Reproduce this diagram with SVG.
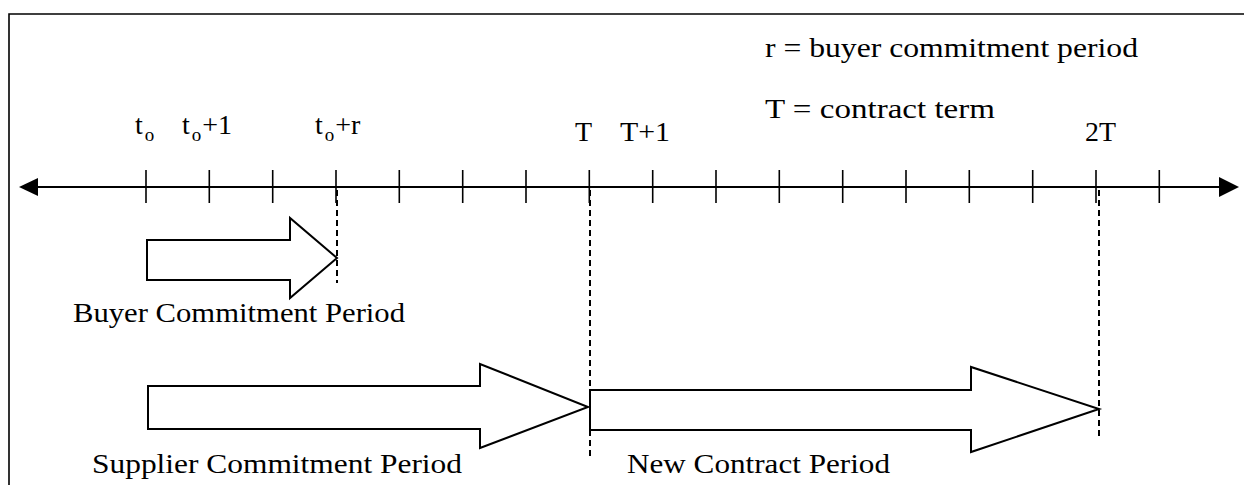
<svg xmlns="http://www.w3.org/2000/svg" width="1244" height="485" viewBox="0 0 1244 485">
<style>
  .txt { font-family: "Liberation Serif", "Times New Roman", serif; fill: #000; }
  .lbl { font-size: 28px; }
  .tl { font-size: 28px; }
  .sub { font-size: 19px; }
  .tick { stroke: #000; stroke-width: 1.6; }
  .shape { fill: #fff; stroke: #000; stroke-width: 2; stroke-linejoin: miter; }
  .dash { stroke: #000; stroke-width: 2; stroke-dasharray: 6 4; fill: none; }
</style>
<rect x="0" y="0" width="1244" height="485" fill="#fff"/>
<g id="frame">
  <path d="M9,485 L9,14 L1244,14" fill="none" stroke="#000" stroke-width="1.6"/>
</g>
<g id="legend">
  <text class="txt lbl" x="765" y="57" textLength="373" lengthAdjust="spacingAndGlyphs">r = buyer commitment period</text>
  <text class="txt lbl" x="765" y="118" textLength="230" lengthAdjust="spacingAndGlyphs">T = contract term</text>
</g>
<g id="axis">
  <line x1="30" y1="187" x2="1228" y2="187" stroke="#000" stroke-width="2"/>
  <polygon points="19,187 38,178 38,196" fill="#000"/>
  <polygon points="1239,187 1219,177 1219,197" fill="#000"/>
  <g class="tick">
    <line x1="146" y1="170" x2="146" y2="203"/>
    <line x1="209.3" y1="170" x2="209.3" y2="203"/>
    <line x1="272.7" y1="170" x2="272.7" y2="203"/>
    <line x1="336" y1="170" x2="336" y2="203"/>
    <line x1="399.3" y1="170" x2="399.3" y2="203"/>
    <line x1="462.7" y1="170" x2="462.7" y2="203"/>
    <line x1="526" y1="170" x2="526" y2="203"/>
    <line x1="589.3" y1="170" x2="589.3" y2="203"/>
    <line x1="652.7" y1="170" x2="652.7" y2="203"/>
    <line x1="716" y1="170" x2="716" y2="203"/>
    <line x1="779.3" y1="170" x2="779.3" y2="203"/>
    <line x1="842.7" y1="170" x2="842.7" y2="203"/>
    <line x1="906" y1="170" x2="906" y2="203"/>
    <line x1="969.3" y1="170" x2="969.3" y2="203"/>
    <line x1="1032.7" y1="170" x2="1032.7" y2="203"/>
    <line x1="1096" y1="170" x2="1096" y2="203"/>
    <line x1="1159.3" y1="170" x2="1159.3" y2="203"/>
  </g>
</g>
<g id="tick-labels">
  <text class="txt tl" x="135" y="134">t<tspan class="sub" dy="7" dx="2">o</tspan></text>
  <text class="txt tl" x="182" y="134">t<tspan class="sub" dy="7" dx="2">o</tspan><tspan dy="-7" dx="1">+1</tspan></text>
  <text class="txt tl" x="315" y="134">t<tspan class="sub" dy="7" dx="2">o</tspan><tspan dy="-7" dx="1">+r</tspan></text>
  <text class="txt tl" x="575" y="141">T</text>
  <text class="txt tl" x="620" y="141" textLength="50" lengthAdjust="spacingAndGlyphs">T+1</text>
  <text class="txt tl" x="1085" y="141" textLength="31" lengthAdjust="spacingAndGlyphs">2T</text>
</g>
<g id="buyer-period">
  <polygon class="shape" points="147,240 290,240 290,218 337,258 290,298 290,280 147,280"/>
  <text class="txt lbl" x="73" y="322" textLength="332" lengthAdjust="spacingAndGlyphs">Buyer Commitment Period</text>
</g>
<g id="supplier-period">
  <polygon class="shape" points="148,386 480,386 480,364 588,407 480,448 480,429 148,429"/>
  <text class="txt lbl" x="92" y="473" textLength="370" lengthAdjust="spacingAndGlyphs">Supplier Commitment Period</text>
</g>
<g id="new-contract-period">
  <polygon class="shape" points="590,390 971,390 971,367 1099,409 971,452 971,430 590,430"/>
  <text class="txt lbl" x="627" y="473" textLength="263" lengthAdjust="spacingAndGlyphs">New Contract Period</text>
</g>
<g id="connectors">
  <line class="dash" x1="337" y1="190" x2="337" y2="283"/>
  <line class="dash" x1="590" y1="190" x2="590" y2="458"/>
  <line class="dash" x1="1099" y1="190" x2="1099" y2="440"/>
</g>
</svg>
